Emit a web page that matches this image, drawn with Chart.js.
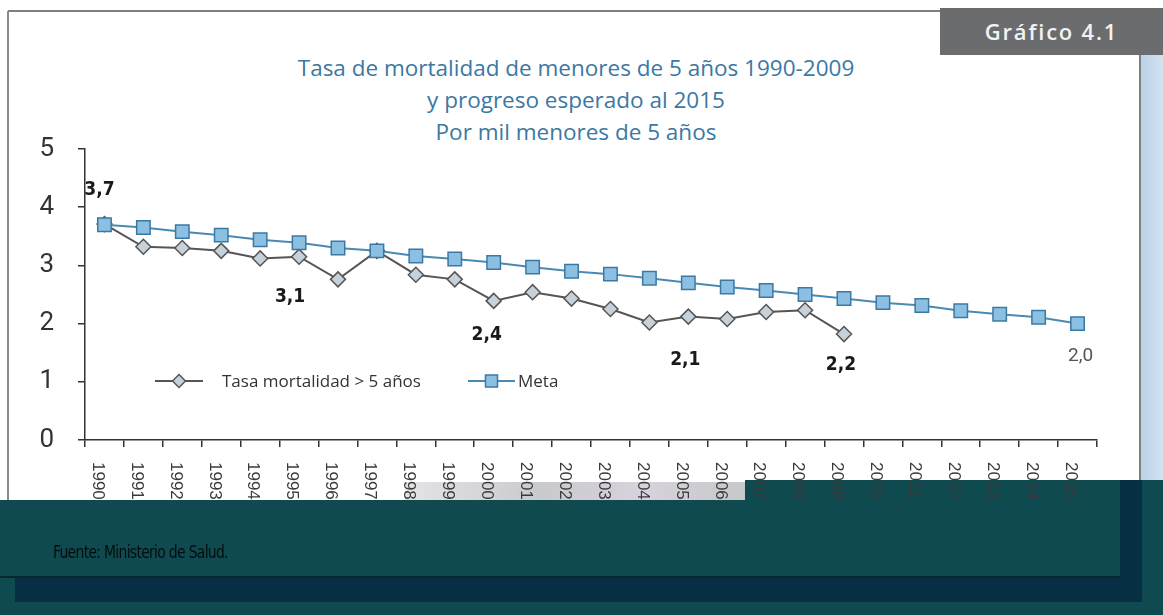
<!DOCTYPE html>
<html>
<head>
<meta charset="utf-8">
<script src="https://cdn.jsdelivr.net/npm/chart.js@4.4.1/dist/chart.umd.min.js"></script>
<style>
  body { margin: 0; }
  #page { position: relative; width: 1163px; height: 615px; overflow: hidden; background: #fff; }
  .blk { position: absolute; }
  #title { position: absolute; left: 0; width: 1152px; top: 52px; text-align: center;
           font: 22.5px "Open Sans", sans-serif; color: #3b78a3; line-height: 32px; }
  #badge { left: 940px; top: 8px; width: 223px; height: 47px; background: #6b6c6e;
           color: #f2f2f2; font: 600 22px "Open Sans", sans-serif; letter-spacing: 1.8px;
           line-height: 47px; text-align: center; }
  #fuente { left: 53px; top: 541px; font: 18px "DejaVu Sans Condensed", sans-serif;
            color: #040d0d; letter-spacing: -0.8px; transform: scaleX(0.86); transform-origin: 0 0; }
  canvas { position: absolute; left: 0; top: 0; }
</style>
</head>
<body>
<div id="page">
  <div class="blk" style="left:8px;top:10px;width:932px;height:2px;background:#7f7f7f"></div>
  <div class="blk" style="left:7px;top:11px;width:2px;height:490px;background:#8a8a8a"></div>
  <div class="blk" style="left:1139px;top:55px;width:2px;height:425px;background:#808080"></div>
  <div class="blk" style="left:1141px;top:55px;width:22px;height:425px;background:linear-gradient(90deg,#b9d2e8,#d3e3f0)"></div>
  <div class="blk" id="badge">Gráfico 4.1</div>
  <div id="title">Tasa de mortalidad de menores de 5 años 1990-2009<br>y progreso esperado al 2015<br>Por mil menores de 5 años</div>

  <div class="blk" style="left:0;top:500px;width:1163px;height:115px;background:#0e4a4f"></div>
  <div class="blk" style="left:1120px;top:480px;width:43px;height:20px;background:#0e4a4f"></div>
  <div class="blk" style="left:405px;top:482px;width:340px;height:18px;background:linear-gradient(90deg,#e4e4e6,#c9cacd 40%,#d8d2dc 70%,#c6c8ca)"></div>
  <div class="blk" style="left:15px;top:578px;width:1127px;height:24px;background:#072f44"></div>
  <div class="blk" style="left:1120px;top:480px;width:22px;height:122px;background:#072f44"></div>
  <div class="blk" style="left:745px;top:480px;width:375px;height:20px;background:#0e4a4f"></div>
  <div class="blk" style="left:0;top:500px;width:1120px;height:76px;background:#0e4a4f;border-bottom:2px solid #08282d"></div>

  <canvas id="myChart" width="1163" height="615"></canvas>
  <div class="blk" id="fuente">Fuente: Ministerio de Salud.</div>
</div>

<script>
'use strict';

const years = ['1990','1991','1992','1993','1994','1995','1996','1997','1998','1999',
               '2000','2001','2002','2003','2004','2005','2006','2007','2008','2009',
               '2010','2011','2012','2013','2014','2015'];

// Tasa mortalidad (1990-2009)
const tasa = [3.71, 3.32, 3.30, 3.25, 3.12, 3.15, 2.76, 3.25, 2.84, 2.76,
              2.39, 2.54, 2.43, 2.25, 2.02, 2.12, 2.08, 2.20, 2.23, 1.82];

// Meta (1990-2015)
const meta = [3.70, 3.65, 3.58, 3.52, 3.44, 3.39, 3.30, 3.25, 3.16, 3.11,
              3.05, 2.97, 2.90, 2.85, 2.78, 2.70, 2.63, 2.57, 2.50, 2.43,
              2.36, 2.31, 2.22, 2.16, 2.11, 2.00];

const yTicks = [0, 1, 2, 3, 4, 5];

// text labels: dataset, index, text, offsets, bold
const notes = [
  { ds: 0, i: 0,  text: '3,7', dx: -5, dy: -34, bold: true },
  { ds: 0, i: 5,  text: '3,1', dx: -9, dy: 40,  bold: true },
  { ds: 0, i: 10, text: '2,4', dx: -7, dy: 34,  bold: true },
  { ds: 0, i: 15, text: '2,1', dx: -3, dy: 43,  bold: true },
  { ds: 0, i: 19, text: '2,2', dx: -3, dy: 31,  bold: true },
  { ds: 1, i: 25, text: '2,0', dx: 3,  dy: 33,  bold: false }
];

const NARROW = '"DejaVu Sans Condensed", "Liberation Sans", sans-serif';

var dm_chart = (function () {

  const ctx = document.getElementById('myChart');

  const xLabels = {
    id: 'xLabels',
    afterDraw(chart) {
      const c = chart.ctx;
      const x = chart.scales.x;
      c.save();
      c.font = '17px "Liberation Sans", Arial, sans-serif';
      c.fillStyle = '#3a3a3a';
      c.textAlign = 'left';
      c.textBaseline = 'middle';
      years.forEach((yr, i) => {
        c.save();
        c.translate(x.getPixelForValue(i) - 7, x.top + 22);
        c.rotate(Math.PI / 2);
        c.fillText(yr, 0, 0);
        c.restore();
      });
      c.restore();
    }
  };

  const noteLabels = {
    id: 'noteLabels',
    afterDatasetsDraw(chart) {
      const c = chart.ctx;
      c.save();
      c.textAlign = 'center';
      c.textBaseline = 'middle';
      notes.forEach(n => {
        const pt = chart.getDatasetMeta(n.ds).data[n.i];
        c.font = n.bold ? 'bold 19px ' + NARROW : '19px Roboto, sans-serif';
        c.fillStyle = n.bold ? '#1a1a1a' : '#555';
        c.fillText(n.text, pt.x + n.dx, pt.y + n.dy);
      });
      c.restore();
    }
  };

  const legendBox = {
    id: 'legendBox',
    afterDatasetsDraw(chart) {
      const c = chart.ctx;
      const y = 381;
      const items = [
        { ds: chart.data.datasets[0], x0: 155, x1: 203, tx: 222, r: 6.5 },
        { ds: chart.data.datasets[1], x0: 468, x1: 515, tx: 518, r: 8.5 }
      ];
      c.save();
      items.forEach(it => {
        c.strokeStyle = it.ds.borderColor;
        c.lineWidth = 2;
        c.beginPath();
        c.moveTo(it.x0, y);
        c.lineTo(it.x1, y);
        c.stroke();
        c.fillStyle = it.ds.pointBackgroundColor;
        c.strokeStyle = it.ds.pointBorderColor;
        c.lineWidth = 1.5;
        Chart.helpers.drawPoint(c, { pointStyle: it.ds.pointStyle, radius: it.r, borderWidth: 1.5, rotation: 0 },
          (it.x0 + it.x1) / 2, y);
        c.font = '17px "Open Sans", sans-serif';
        c.fillStyle = '#333';
        c.textAlign = 'left';
        c.textBaseline = 'middle';
        c.fillText(it.ds.label, it.tx, y + 1);
      });
      c.restore();
    }
  };

  const config = {
    type: 'line',
    data: {
      labels: years,
      datasets: [
        {
          label: 'Tasa mortalidad > 5 años',
          data: tasa,
          borderColor: '#555555',
          borderWidth: 2,
          pointStyle: 'rectRot',
          pointRadius: 7.5,
          pointBackgroundColor: '#c7d1da',
          pointBorderColor: '#555555',
          pointBorderWidth: 1.5,
          order: 2
        },
        {
          label: 'Meta',
          data: meta,
          borderColor: '#4a89b3',
          borderWidth: 2,
          pointStyle: 'rect',
          pointRadius: 9.5,
          pointBackgroundColor: '#8cc0e2',
          pointBorderColor: '#3b79a3',
          pointBorderWidth: 1.5,
          order: 1
        }
      ]
    },
    options: {
      responsive: false,
      animation: false,
      layout: { padding: { left: 0, right: 66, top: 149, bottom: 175 } },
      plugins: {
        legend: { display: false },
        tooltip: { enabled: false }
      },
      scales: {
        x: {
          offset: true,
          grid: { offset: true, drawOnChartArea: false, tickLength: 7, color: '#333', lineWidth: 1.5 },
          border: { color: '#333', width: 1.5 },
          ticks: { display: false },
          afterFit: s => { s.height = 0; }
        },
        y: {
          min: 0,
          max: 5,
          afterBuildTicks: s => { s.ticks = yTicks.map(v => ({ value: v })); },
          grid: { drawOnChartArea: false, tickLength: 7, color: '#333', lineWidth: 1.5 },
          border: { color: '#333', width: 1.5 },
          ticks: { padding: 24, color: '#333', font: { family: 'Roboto, sans-serif', size: 26 } },
          afterFit: s => { s.width = 85; }
        }
      }
    },
    plugins: [xLabels, noteLabels, legendBox]
  };

  const myChart = new Chart(ctx, config);

  return { myChart };

})();
</script>
</body>
</html>
